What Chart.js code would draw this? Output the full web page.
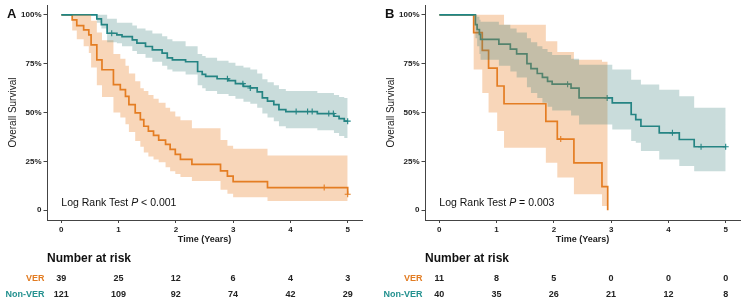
<!DOCTYPE html>
<html><head><meta charset="utf-8">
<script src="https://cdn.jsdelivr.net/npm/chart.js@4.4.1/dist/chart.umd.min.js"></script>
<style>
html,body{margin:0;padding:0;background:#fff;width:744px;height:304px;overflow:hidden;font-family:"Liberation Sans",Arial,Helvetica,sans-serif;}
.panel{position:absolute;top:0;width:372px;height:304px;}
canvas{position:absolute;left:0;top:0;}
.t{position:absolute;white-space:nowrap;line-height:1;color:#222;}
</style></head><body>
<div class="panel" id="pA" style="left:0"><canvas id="cA" width="372" height="304"></canvas></div>
<div class="panel" id="pB" style="left:378px"><canvas id="cB" width="372" height="304"></canvas></div>
<script>
// ---------- data ----------
const panelLabels = ['A', 'B'];
const groupNames = ['VER', 'Non-VER'];
const xTicks = [0, 1, 2, 3, 4, 5];
const riskTimes = [0, 1, 2, 3, 4, 5];
const yTickValues = [0, 25, 50, 75, 100];
const yTickLabels = ['0', '25%', '50%', '75%', '100%'];
const pTexts = ['< 0.001', '= 0.003'];

// Panel A – VER
const A_verTime  = [0,0.19,0.27,0.39,0.48,0.52,0.62,0.71,0.91,1.03,1.12,1.18,1.29,1.38,1.44,1.52,1.61,1.7,1.82,1.9,1.99,2.08,2.28,2.78,2.9,3.0,3.6,5.0];
const A_verSurv  = [100,97.4,94.5,92.3,89.8,84.6,77,71.9,64.3,61.7,58.3,54.1,49.8,46.4,43,40.5,38.3,35.9,33.7,31.1,28.6,26,23.5,20.1,17.5,14.6,11.6,8.2];
const A_verUpper = [100,100,100,100,100,97,91,87,80,77.5,74,70,66,62.5,61,59,57,55,52.5,50.5,48,46,42,36,33,31.5,28,28];
const A_verLower = [100,92,87.5,84,80.5,73,64,58,50,47.5,44,40,35.5,32.5,29.5,27.5,26,24.5,22,20,18.5,17,15,10.5,8.5,6.6,4.7,4.7];
const A_verCensor = [4.59, 5.0];
// Panel A – Non-VER
const A_nonTime  = [0,0.62,0.7,0.8,0.97,1.06,1.24,1.32,1.47,1.59,1.76,1.85,1.94,2.17,2.38,2.46,2.52,2.72,2.92,3.04,3.18,3.3,3.42,3.51,3.6,3.71,3.8,3.92,4.47,4.76,4.85,4.94,5.0];
const A_nonSurv  = [100,98,95,90.6,89.8,88.9,87.2,85.5,83.8,82.1,80.4,78,77,76,71,69.5,68.5,67.3,66.3,64.8,63.4,62.6,60.6,57.5,55.8,54.1,51.5,50.5,49.5,48.1,46.9,45.6,45.6];
const A_nonUpper = [100,100,100,98,96,96,94.5,93,92,90.5,89,87.5,86.5,84,80,79,78,76.5,75.5,74,73,72,70,67,65.5,64,62,61,60,59,58,57.5,57.5];
const A_nonLower = [100,96,93,86,85.5,84,81.5,80,78,76,74,72,71,69.5,64,62.5,61,59.5,58.5,57,55.5,54.5,52.5,49.5,47.5,45.5,43,42,41,39.5,38,37,37];
const A_nonCensor = [0.88, 2.9, 3.17, 3.3, 4.1, 4.3, 4.38, 4.67, 4.75, 5.0];
const A_riskVER = [39, 25, 12, 6, 4, 3];
const A_riskNon = [121, 109, 92, 74, 42, 29];

// Panel B – VER
const B_verTime  = [0,0.6,0.75,0.86,1.01,1.13,1.86,2.06,2.35,2.84,2.94];
const B_verSurv  = [100,90.9,81.8,72.7,63.6,54.5,45.5,36.4,24.2,12.1,0];
const B_verUpper = [100,100,100,100,100,95,86.5,81,77,76,76];
const B_verLower = [100,72,60,50,40.5,32,24.3,16.7,8.2,2.2,2.2];
const B_verCensor = [2.12];
// Panel B – Non-VER
const B_nonTime  = [0,0.63,0.66,0.7,0.72,1.04,1.24,1.35,1.53,1.6,1.71,1.8,1.89,1.97,2.3,2.44,3.02,3.35,3.43,3.52,3.84,4.19,4.45,5.0];
const B_nonSurv  = [100,95,92.5,90,87.5,85,82.5,80,75,72.5,70,68,66,64.5,62.5,57.5,55,49,46.4,43,39.6,36.2,32.5,32.5];
const B_nonUpper = [100,100,99,97.5,96.5,95,93,91,88,86,84,82.5,81,79.5,77.5,74.5,72,66.8,66.8,64.3,61.7,58.3,52.4,52.4];
const B_nonLower = [100,88,84,80,77,74,71,68,63,60,57.5,55,53,51,48.5,43.9,41.3,35.4,34.5,30.3,26,22.6,20,20];
const B_nonCensor = [2.24, 2.93, 4.07, 4.57, 5.0];
const B_riskVER = [11, 8, 5, 0, 0, 0];
const B_riskNon = [40, 35, 26, 21, 12, 8];

// ---------- styling ----------
const FONT = '"Liberation Sans", Arial, Helvetica, sans-serif';
const C_VER = '#E27C22';
const C_NON = '#1D8686';
const F_VER = 'rgba(232,128,38,0.32)';
const F_NON = 'rgba(60,130,125,0.28)';
const AXIS = '#444';

function pts(times, vals) { return times.map((t, i) => ({x: t, y: vals[i]})); }
function stepAt(times, vals, t) {
  let v = vals[0];
  for (let i = 0; i < times.length; i++) if (times[i] <= t + 1e-9) v = vals[i];
  return v;
}
const clear = 'rgba(0,0,0,0)';
function band(times, vals, color, order, fill) {
  return {data: pts(times, vals), fill: fill ? '+1' : false, backgroundColor: color,
    borderColor: clear, borderWidth: 1, pointRadius: 0, stepped: true, order: order};
}
function curve(times, vals, color, order) {
  return {data: pts(times, vals), fill: false, borderColor: color, borderWidth: 1.7,
    pointRadius: 0, stepped: true, order: order};
}
function censor(ctimes, times, vals, color, order) {
  return {data: ctimes.map(t => ({x: t, y: stepAt(times, vals, t)})), showLine: false,
    pointStyle: 'cross', pointRadius: 3, pointBorderColor: color, pointBorderWidth: 1.1,
    borderColor: color, order: order};
}

function makePanel(idx, canvasId, panelId, ver, non, riskVer, riskNon) {
  const datasets = [
    band(non.time, non.upper, F_NON, 1, true),
    band(non.time, non.lower, F_NON, 1, false),
    band(ver.time, ver.upper, F_VER, 2, true),
    band(ver.time, ver.lower, F_VER, 2, false),
    censor(non.censor, non.time, non.surv, C_NON, 3),
    censor(ver.censor, ver.time, ver.surv, C_VER, 4),
    curve(non.time, non.surv, C_NON, 5),
    curve(ver.time, ver.surv, C_VER, 6)
  ];
  const chart = new Chart(document.getElementById(canvasId), {
    type: 'line',
    data: {datasets},
    options: {
      responsive: false, animation: false, events: [],
      layout: {padding: {left: 0, right: 10, top: 5, bottom: 56}},
      plugins: {legend: {display: false}, tooltip: {enabled: false}},
      elements: {line: {tension: 0}},
      scales: {
        x: {
          type: 'linear', min: -0.25, max: 5.25,
          afterBuildTicks: s => { s.ticks = xTicks.map(v => ({value: v})); },
          afterFit: s => { s.height = 28; s.paddingLeft = 0; s.paddingRight = 0; },
          grid: {drawOnChartArea: false, drawTicks: true, tickLength: 3, color: AXIS, lineWidth: 1},
          border: {display: true, color: AXIS, width: 1},
          ticks: {font: {family: FONT, size: 8, weight: 'bold'}, color: '#222', padding: 2,
                  maxRotation: 0, autoSkip: false, callback: v => String(v)},
          title: {display: true, text: 'Time (Years)', font: {family: FONT, size: 9, weight: 'bold'},
                  color: '#222', padding: {top: 0, bottom: 3}}
        },
        y: {
          type: 'linear', min: -5, max: 105,
          afterBuildTicks: s => { s.ticks = yTickValues.map(v => ({value: v})); },
          afterFit: s => { s.width = 47; s.paddingTop = 0; s.paddingBottom = 0; },
          grid: {drawOnChartArea: false, drawTicks: true, tickLength: 3.5, color: AXIS, lineWidth: 1},
          border: {display: true, color: AXIS, width: 1},
          ticks: {font: {family: FONT, size: 8, weight: 'bold'}, color: '#222', padding: 2,
                  autoSkip: false, callback: v => yTickLabels[yTickValues.indexOf(v)]},
          title: {display: true, text: 'Overall Survival', font: {family: FONT, size: 10},
                  color: '#222', padding: {top: 7, bottom: 0}}
        }
      }
    }
  });

  const panel = document.getElementById(panelId);
  const xs = chart.scales.x;
  function addText(html, css) {
    const d = document.createElement('div');
    d.className = 't';
    d.innerHTML = html;
    Object.assign(d.style, css);
    panel.appendChild(d);
    return d;
  }
  addText(panelLabels[idx], {left: '7px', top: '6.5px', fontSize: '13px', fontWeight: 'bold', color: '#111'});
  addText('Log Rank Test <i>P</i> ' + pTexts[idx],
          {left: (xs.getPixelForValue(0)) + 'px', top: '196.5px', fontSize: '10.5px', color: '#111'});
  addText('Number at risk', {left: '47px', top: '252px', fontSize: '12px', fontWeight: 'bold', color: '#111'});
  const rows = [[groupNames[0], C_VER, riskVer, 278.3], [groupNames[1], '#23918F', riskNon, 294]];
  rows.forEach(([name, col, vals, cy]) => {
    addText(name, {right: (372 - 44.5) + 'px', top: (cy - 4.5) + 'px', fontSize: '9px', fontWeight: 'bold', color: col});
    vals.forEach((v, i) => {
      const x = xs.getPixelForValue(riskTimes[i]);
      addText(String(v), {left: (x - 20) + 'px', width: '40px', textAlign: 'center',
        top: (cy - 4.5) + 'px', fontSize: '9px', fontWeight: 'bold', color: '#222'});
    });
  });
  return chart;
}

makePanel(0, 'cA', 'pA',
  {time: A_verTime, surv: A_verSurv, upper: A_verUpper, lower: A_verLower, censor: A_verCensor},
  {time: A_nonTime, surv: A_nonSurv, upper: A_nonUpper, lower: A_nonLower, censor: A_nonCensor},
  A_riskVER, A_riskNon);
makePanel(1, 'cB', 'pB',
  {time: B_verTime, surv: B_verSurv, upper: B_verUpper, lower: B_verLower, censor: B_verCensor},
  {time: B_nonTime, surv: B_nonSurv, upper: B_nonUpper, lower: B_nonLower, censor: B_nonCensor},
  B_riskVER, B_riskNon);
</script>
</body></html>
